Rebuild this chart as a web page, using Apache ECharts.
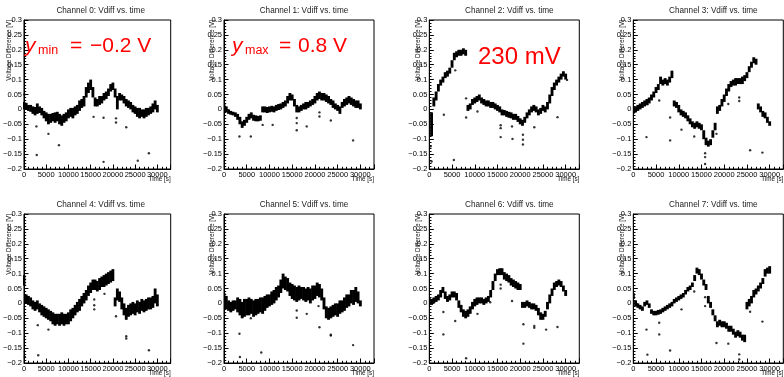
<!DOCTYPE html>
<html>
<head>
<meta charset="utf-8">
<script src="https://cdn.jsdelivr.net/npm/echarts@6/dist/echarts.min.js"></script>
<style>
  html, body { margin: 0; padding: 0; background: #fff; }
  #chart { width: 784px; height: 377px; }
</style>
</head>
<body>
<div id="chart"></div>
<script>
// sample times [s], one band slice every 500 s
const times = [
  0, 500, 1000, 1500, 2000, 2500, 3000, 3500, 4000, 4500,
  5000, 5500, 6000, 6500, 7000, 7500, 8000, 8500, 9000, 9500,
  10000, 10500, 11000, 11500, 12000, 12500, 13000, 13500, 14000, 14500,
  15000, 15500, 16000, 16500, 17000, 17500, 18000, 18500, 19000, 19500,
  20000, 20500, 21000, 21500, 22000, 22500, 23000, 23500, 24000, 24500,
  25000, 25500, 26000, 26500, 27000, 27500, 28000, 28500, 29000, 29500,
  30000
];

// band of the dense data, [low, high] in mV at each time above (null = no data)
const ch0 = [
  [0,25],[-2,22],[-5,15],[-8,15],[-15,10],[-20,8],[-15,20],[-12,10],[-20,5],[-30,-5],
  [-40,-10],[-50,-15],[-45,-15],[-40,-12],[-45,-10],[-40,-8],[-50,-15],[-55,-20],[-45,-15],[-40,-10],
  [-30,0],[-25,5],[-30,5],[-20,10],[-15,15],[-5,30],[5,35],[10,45],[40,75],[55,90],
  [65,100],[40,75],[10,40],[10,35],[15,45],[20,45],[30,55],[35,60],[45,70],[60,85],
  [65,90],[40,70],[0,45],[30,55],[30,50],[20,45],[10,35],[5,30],[0,25],[-10,15],
  [-15,10],[-25,5],[-30,5],[-25,0],[-30,0],[-25,5],[-20,5],[-15,10],[-10,20],[0,30],
  [-10,15]
];
const ch1 = [
  [0,20],[-10,10],[-15,0],[-18,-5],[-20,-8],[-25,-10],[-35,-15],[-50,-25],[-62,-40],[-55,-35],
  [-45,-25],[-35,-15],[-30,-10],[-38,-18],[-40,-20],[-40,-22],[-38,-20],[-10,10],[-10,10],[-12,8],
  [-10,10],[-8,12],[-10,10],[-5,15],[-2,18],[0,20],[5,25],[10,30],[20,45],[30,55],
  [30,50],[10,35],[-10,15],[-10,10],[-5,15],[0,20],[0,25],[5,25],[10,30],[15,35],
  [20,45],[30,55],[35,60],[30,55],[30,55],[25,50],[20,45],[15,35],[5,30],[0,20],
  [-5,15],[-15,10],[5,25],[10,35],[15,40],[20,45],[15,40],[10,35],[5,30],[5,30],
  [0,20]
];
const ch2 = [
  null,[-90,-10],[10,40],[30,60],[60,85],[80,100],[90,110],[105,125],[110,130],[120,140],
  [140,165],[165,190],[175,195],[180,200],[180,200],[185,205],[180,200],[-5,15],[0,20],[15,35],
  [20,40],[25,45],[30,50],[20,40],[15,35],[10,30],[10,30],[5,25],[5,25],[0,20],
  [-5,15],[-10,10],[-20,0],[-20,-2],[-25,-5],[-28,-8],[-30,-10],[-35,-15],[-35,-15],[-42,-22],
  [-50,-30],[-55,-35],[-45,-25],[-30,-10],[-20,0],[-10,10],[-5,15],[-10,10],[-20,0],[-15,5],
  [-5,15],[-10,10],[0,25],[20,50],[45,75],[65,90],[80,100],[90,110],[100,120],[110,128],
  [100,120]
];
const ch3 = [
  [-15,5],[-10,10],[-5,15],[0,20],[5,25],[10,30],[15,35],[20,40],[30,50],[40,60],
  [55,75],[65,85],[85,110],[80,100],[85,105],[80,100],[90,110],[105,130],[10,30],[5,25],
  [-10,15],[-20,0],[-25,-5],[-30,-10],[-40,-20],[-50,-30],[-60,-40],[-65,-45],[-60,-40],[-65,-45],
  [-70,-50],[-100,-70],[-120,-95],[-125,-105],[-120,-100],[-95,-70],[-70,-45],[-15,10],[-5,15],[10,35],
  [25,50],[45,70],[60,85],[75,95],[80,100],[80,105],[85,105],[85,105],[85,110],[95,115],
  [105,125],[125,145],[140,160],[155,175],[150,170],[0,20],[-10,10],[-25,-5],[-30,-10],[-45,-25],
  [-55,-40]
];
const ch4 = [
  [60,95],[0,30],[-5,25],[-10,20],[-20,10],[-25,5],[-20,10],[-30,0],[-40,-5],[-45,-10],
  [-50,-15],[-55,-20],[-60,-25],[-70,-30],[-75,-35],[-70,-35],[-75,-35],[-70,-30],[-75,-35],[-70,-35],
  [-70,-30],[-60,-20],[-50,-15],[-40,-5],[-30,5],[-25,15],[-10,25],[0,35],[10,45],[25,60],
  [35,70],[45,80],[45,80],[40,75],[45,85],[55,90],[55,95],[60,100],[65,105],[70,110],
  [75,115],[-10,20],[10,50],[5,40],[-20,20],[-40,0],[-55,-15],[-45,-5],[-40,0],[-35,5],
  [-40,0],[-30,10],[-35,5],[-25,15],[-30,10],[-25,15],[-20,20],[-20,20],[-15,25],[0,50],
  [-10,30]
];
const ch5 = [
  [-15,35],[-20,25],[-25,10],[-30,5],[-25,10],[-20,10],[-30,20],[-40,15],[-50,5],[-45,15],
  [-40,15],[-40,20],[-35,15],[-45,10],[-40,15],[-35,15],[-30,20],[-35,20],[-25,25],[-15,30],
  [-10,30],[-5,40],[0,45],[10,55],[20,60],[35,80],[50,100],[45,90],[40,85],[25,70],
  [15,65],[10,60],[5,55],[10,60],[15,55],[10,55],[5,50],[10,55],[0,50],[10,60],
  [15,60],[25,70],[20,65],[10,50],[-20,20],[-50,-10],[-55,-15],[-50,-10],[-45,-5],[-40,0],
  [-45,0],[-35,10],[-30,10],[-25,20],[-15,30],[-10,30],[0,45],[-5,45],[5,55],[0,40],
  [-10,10]
];
const ch6 = [
  [-5,20],[-5,15],[0,20],[5,25],[10,30],[20,45],[35,55],[15,40],[5,25],[10,30],
  [20,40],[20,40],[10,35],[-15,10],[-30,-5],[-45,-20],[-50,-25],[-45,-20],[-35,-10],[-20,5],
  [-10,15],[-5,20],[0,20],[0,20],[-5,15],[0,20],[5,25],[20,45],[45,75],[75,100],
  [95,115],[95,118],[95,118],[80,105],[75,100],[70,95],[60,85],[55,80],[50,75],[45,70],
  [45,65],[-15,5],[-15,5],[-10,10],[-15,5],[-20,0],[-20,0],[-25,-5],[-40,-15],[-55,-30],
  [-55,-35],[-45,-25],[-20,5],[0,30],[25,50],[45,70],[55,75],[60,80],[55,75],[40,60],
  [25,45]
];
const ch7 = [
  [15,35],[-10,10],[-15,0],[-20,-5],[-25,-10],[-10,5],[-5,10],[-15,0],[-35,-20],[-40,-25],
  [-40,-25],[-38,-22],[-35,-20],[-30,-15],[-25,-10],[-20,-5],[-15,0],[-10,5],[0,15],[5,20],
  [10,25],[15,30],[20,35],[30,45],[40,55],[45,60],[55,70],[75,95],[100,120],[95,115],
  [80,100],[60,80],[45,65],[0,25],[-15,5],[-40,-20],[-60,-40],[-80,-60],[-75,-55],[-80,-60],
  [-80,-60],[-85,-65],[-95,-75],[-95,-75],[-105,-85],[-115,-95],[-110,-90],[-115,-95],[-125,-105],[-130,-105],
  [-20,5],[-10,15],[0,25],[20,45],[30,50],[40,60],[50,70],[65,85],[90,115],[100,120],
  [100,125]
];

// isolated points away from the band, [time s, mV]
const out0 = [[100,50],[2800,-57],[2870,-153],[5500,-82],[7870,-120],[15650,-25],[17900,-28],[17900,-176],[20700,-30],[20700,-44],[23000,-60],[25600,-172],[28100,-147]];
const out1 = [[3400,-91],[5900,-91],[8500,-52],[10700,-52],[16000,-29],[16000,-46],[16000,-70],[18200,-57],[21000,-10],[21000,-24],[23500,-37],[28400,-104]];
const out2 = [[300,-124],[500,-175],[3200,-18],[5700,131],[5400,-170],[8100,37],[8100,-27],[10600,-7],[15700,-53],[15700,-63],[15700,-93],[18200,-57],[18300,-99],[20600,-85],[20600,-102],[20600,-118],[23100,-60],[28200,-26],[30300,99]];
const out3 = [[2900,-93],[3100,17],[5700,30],[8100,-27],[8100,-104],[10600,-68],[13400,-91],[15800,-147],[15800,-160],[15800,-183],[18300,-82],[20900,18],[23300,40],[23300,28],[25700,-137],[28400,-145]];
const out4 = [[200,-180],[3200,-174],[3100,-73],[5500,-88],[15800,13],[15800,-6],[15800,-20],[18100,32],[20700,-43],[23000,-110],[23000,-118],[28100,-157]];
const out5 = [[3400,-102],[3500,-180],[5900,-50],[8200,-165],[16000,-24],[16000,-48],[18200,-35],[20800,-9],[21000,-80],[23500,-105],[23500,-108],[28400,-140]];
const out6 = [[3100,-29],[3100,-104],[5700,-59],[8100,-184],[10600,-35],[13400,4],[15700,63],[15700,50],[18200,8],[20700,-70],[20700,-135],[23100,-76],[23100,-82],[25700,-88],[28200,-79]];
const out7 = [[2900,-88],[3100,-172],[5700,-65],[5700,-104],[8100,-158],[10600,-20],[13400,40],[15800,21],[15800,-9],[18300,-133],[20900,-135],[23300,-171],[23300,-188],[25700,-28],[28400,-61]];

const bands = [ch0, ch1, ch2, ch3, ch4, ch5, ch6, ch7];
const outliers = [out0, out1, out2, out3, out4, out5, out6, out7];
const channelNames = ["Channel 0", "Channel 1", "Channel 2", "Channel 3", "Channel 4", "Channel 5", "Channel 6", "Channel 7"];

// panel layout
const colLeft = [20.7, 224, 429.3, 633.3];
const rowTop = [20, 214];
const frameW = 150, frameH = 149;
const halfStep = 250;
const FONT = "'Liberation Sans', Arial, Helvetica, sans-serif";

const fmtY = v => {
  const r = Number(v.toFixed(2));
  if (r === 0) return "0";
  return (r < 0 ? "\u2212" : "") + String(Math.abs(r));
};

const grids = [], xAxes = [], yAxes = [], series = [], titles = [], graphics = [];

for (let i = 0; i < 8; i++) {
  const left = colLeft[i % 4];
  const top = rowTop[Math.floor(i / 4)];
  grids.push({
    left: left, top: top, width: frameW, height: frameH,
    show: true, borderColor: "#000", borderWidth: 1, backgroundColor: "transparent"
  });
  xAxes.push({
    gridIndex: i, type: "value", min: 0, max: 33000, interval: 5000,
    axisLine: { onZero: false, lineStyle: { color: "#000", width: 1 } },
    axisTick: { inside: true, length: 4.5, lineStyle: { color: "#000" } },
    minorTick: { show: true, splitNumber: 5, length: 2.2, lineStyle: { color: "#000" } },
    splitLine: { show: false },
    axisLabel: {
      margin: 2, fontSize: 7.5, color: "#000", fontFamily: FONT, showMaxLabel: false,
      formatter: v => (v % 5000 === 0 ? String(v) : "")
    }
  });
  yAxes.push({
    gridIndex: i, type: "value", min: -0.2, max: 0.3, interval: 0.05,
    axisLine: { show: true, onZero: false, lineStyle: { color: "#000", width: 1 } },
    axisTick: { show: true, inside: true, length: 4.5, lineStyle: { color: "#000" } },
    minorTick: { show: true, splitNumber: 5, length: 2.2, lineStyle: { color: "#000" } },
    splitLine: { show: false },
    axisLabel: { margin: 2, fontSize: 7.5, color: "#000", fontFamily: FONT, formatter: fmtY }
  });

  const bandData = [];
  bands[i].forEach((b, k) => {
    if (b) bandData.push([times[k], b[0] / 1000, b[1] / 1000]);
  });
  series.push({
    type: "custom",
    xAxisIndex: i, yAxisIndex: i,
    encode: { x: 0, y: [1, 2] },
    clip: true,
    silent: true,
    data: bandData,
    renderItem: (params, api) => {
      const t = api.value(0);
      const p0 = api.coord([t - halfStep, api.value(2)]);
      const p1 = api.coord([t + halfStep, api.value(1)]);
      return {
        type: "rect",
        shape: { x: p0[0] - 0.3, y: p0[1], width: p1[0] - p0[0] + 0.6, height: Math.max(p1[1] - p0[1], 1.5) },
        style: { fill: "#000" }
      };
    }
  });
  series.push({
    type: "scatter",
    xAxisIndex: i, yAxisIndex: i,
    symbol: "circle", symbolSize: 2.4,
    itemStyle: { color: "#000" },
    silent: true,
    data: outliers[i].map(p => [p[0], p[1] / 1000])
  });

  titles.push({
    text: channelNames[i] + ": Vdiff vs. time",
    left: left + frameW / 2, top: top - 18, textAlign: "center",
    textStyle: { fontSize: 8.2, fontWeight: "normal", color: "#222", fontFamily: FONT }
  });

  graphics.push({
    type: "text", x: left - 11.5, y: top, rotation: Math.PI / 2,
    style: { text: "Voltage Difference [V]", fill: "#111", font: "6.3px " + FONT, align: "right", verticalAlign: "middle" }
  });
  graphics.push({
    type: "text", x: left + frameW, y: top + frameH + 10.5,
    style: { text: "Time [s]", fill: "#111", font: "6.3px " + FONT, align: "right", verticalAlign: "middle" }
  });
}

// red annotations
const red = "#ff0000";
const anno = (text, x, y, size, italic) => ({
  type: "text", x: x, y: y, z: 10,
  style: { text: text, fill: red, font: (italic ? "italic " : "") + size + "px " + FONT, align: "left", verticalAlign: "middle" }
});
graphics.push(
  anno("y", 25, 46.3, 21, true),
  anno("min", 38, 51, 12.5, false),
  anno("=", 70, 46.3, 21, false),
  anno("\u22120.2 V", 90, 46.3, 21, false),
  anno("y", 232, 46.3, 21, true),
  anno("max", 245, 51, 12.5, false),
  anno("=", 279, 46.3, 21, false),
  anno("0.8 V", 298, 46.3, 21, false),
  anno("230 mV", 478, 57.3, 24, false)
);

const chart = echarts.init(document.getElementById("chart"), null, { renderer: "canvas" });
chart.setOption({
  animation: false,
  backgroundColor: "#fff",
  title: titles,
  grid: grids,
  xAxis: xAxes,
  yAxis: yAxes,
  series: series,
  graphic: graphics
});
</script>
</body>
</html>
